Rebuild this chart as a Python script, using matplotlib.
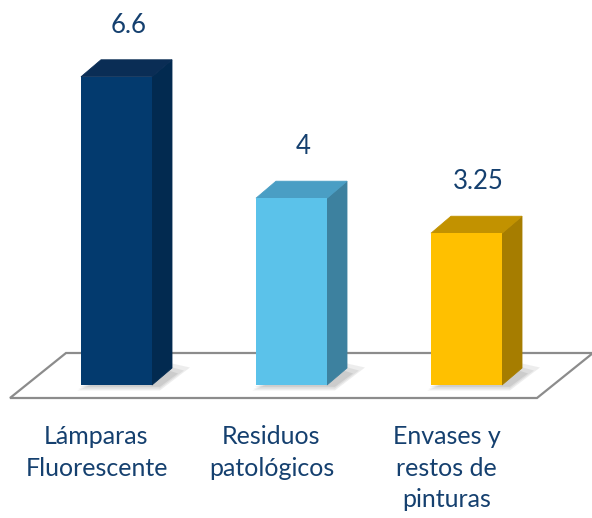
import numpy as np
import matplotlib.pyplot as plt
from matplotlib.patches import Polygon

# data
categories = ["Lámparas\nFluorescente", "Residuos\npatológicos", "Envases y\nrestos de\npinturas"]
values = [6.6, 4, 3.25]
value_labels = ["6.6", "4", "3.25"]

front_colors = ["#033A6E", "#5BC2EA", "#FFC000"]
side_colors = ["#022A50", "#3D819F", "#A67D00"]
top_colors = ["#0A2D55", "#4A9EC4", "#C29200"]
text_color = "#15406F"

#----------------------------------------------------------
# layout (pixel based, converted to data units)
px_x = 175.0       # pixels per category
px_y = 46.7        # pixels per value unit
W, H = 592, 518
x0_px, y0_px = 116.5, 385   # centre of first bar, baseline (from top)

bar_w = 71 / px_x
dx = 20 / px_x
dy = 17 / px_y

fig = plt.figure(figsize=(W / 100, H / 100), dpi=100)
ax = fig.add_axes([0, 0, 1, 1])
ax.set_xlim(-x0_px / px_x, (W - x0_px) / px_x)
ax.set_ylim(-(H - y0_px) / px_y, y0_px / px_y)
ax.axis("off")

#----------------------------------------------------------
# floor
fl_left = (10 - x0_px) / px_x
fl_right = (537 - x0_px) / px_x
fl_front = -13 / px_y
fl_back = 32 / px_y
fl_shift = 56 / px_x
floor = Polygon([(fl_left, fl_front), (fl_right, fl_front),
                 (fl_right + fl_shift, fl_back), (fl_left + fl_shift, fl_back)],
                closed=True, facecolor="white", edgecolor="#8C8C8C", lw=1.6, zorder=1)
ax.add_patch(floor)

#----------------------------------------------------------
# bars
xs = np.arange(len(values))
for i, (x, v) in enumerate(zip(xs, values)):
    l = x - bar_w / 2
    r = x + bar_w / 2

    # soft shadow on the floor
    for k, a in enumerate([0.12, 0.12, 0.15]):
        g = (3 - k) * 4 / px_x
        gy = (3 - k) * 3 / px_y
        sh = Polygon([(l - g * 0.3, -gy * 0.6), (r + dx * 0.4, -gy * 0.6),
                      (r + dx + g * 1.5, dy * 0.5 + gy), (r, dy + gy)],
                     closed=True, facecolor="#707070", edgecolor="none", alpha=a, zorder=2)
        ax.add_patch(sh)

    side = Polygon([(r, 0), (r + dx, dy), (r + dx, v + dy), (r, v)],
                   closed=True, facecolor=side_colors[i], edgecolor=side_colors[i], lw=0.6, zorder=3)
    top = Polygon([(l, v), (r, v), (r + dx, v + dy), (l + dx, v + dy)],
                  closed=True, facecolor=top_colors[i], edgecolor=top_colors[i], lw=0.6, zorder=3)
    ax.add_patch(side)
    ax.add_patch(top)
    ax.bar(x, v, width=bar_w, bottom=0, color=front_colors[i], zorder=4)

    ax.annotate(value_labels[i], (x + 12 / px_x, v + dy), xytext=(0, 25),
                textcoords="offset points", ha="center", va="center",
                fontsize=18.5, color=text_color, family="Lato")

    ax.text(x - 20 / px_x, -40 / px_y, categories[i], ha="center", va="top",
            fontsize=18, color=text_color, family="Lato", linespacing=1.45)

fig.savefig("out.png", dpi=100)
